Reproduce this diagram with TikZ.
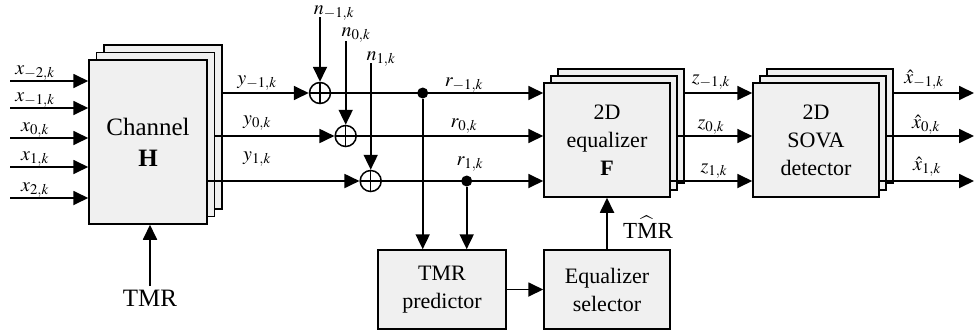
\documentclass[tikz,border=0pt]{standalone}
\usepackage{mathptmx}
\usepackage{fontspec}
\setmainfont{Liberation Serif}
\newfontfamily\timesfont{Liberation Serif}
\usetikzlibrary{arrows.meta, calc, shadows}
\definecolor{box-fill}{gray}{0.94}
\tikzset{
    tip/.style = {-{Triangle[length=15pt,width=14pt]}},
    wire/.style = {line width=1.8pt},
    block/.style = {draw, line width=1.5pt, fill=box-fill, align=center,
        font=\timesfont\fontsize{22}{28}\selectfont, inner sep=0pt},
    stack/.style = {block,
        copy shadow={shadow xshift=2*#1, shadow yshift=2*#1, draw=black, fill=box-fill, line width=1.5pt},
        copy shadow={shadow xshift=#1, shadow yshift=#1, draw=black, fill=box-fill, line width=1.5pt}},
    adder/.style = {circle, draw, line width=1.5pt, minimum size=21pt, inner sep=0pt, fill=white,
        path picture={\draw[line width=1.5pt]
            (path picture bounding box.north) -- (path picture bounding box.south)
            (path picture bounding box.west) -- (path picture bounding box.east);}},
    dot/.style = {circle, fill, minimum size=11pt, inner sep=0pt},
    sig/.style = {anchor=base, inner sep=0pt, font=\timesfont\fontsize{20}{24}\selectfont},
}

\begin{document}
\begin{tikzpicture}[x=1pt,y=-1pt]
\useasboundingbox (0,0) rectangle (976,335);

% blocks
\node[stack=7.5pt, minimum width=118pt, minimum height=164pt,
      font=\timesfont\fontsize{25}{31}\selectfont] (chan) at (148,142) {Channel\\\textbf{H}};
\node[stack=7pt, minimum width=126pt, minimum height=114pt] (eq) at (607,140) {2D\\equalizer\\\textbf{F}};
\node[stack=7pt, minimum width=126pt, minimum height=114pt] (sova) at (816,140) {2D\\SOVA\\detector};
\node[block, minimum width=128pt, minimum height=79pt] (pred) at (442,289.5) {TMR\\predictor};
\node[block, minimum width=126pt, minimum height=79pt] (sel) at (607,289.5) {Equalizer\\selector};

\coordinate (chan2) at ($(chan.east)+(7.5,0)$);
\coordinate (chan3) at ($(chan.east)+(15,0)$);
\coordinate (eq2) at ($(eq.east)+(7,0)$);
\coordinate (eq3) at ($(eq.east)+(14,0)$);
\coordinate (sova2) at ($(sova.east)+(7,0)$);
\coordinate (sova3) at ($(sova.east)+(14,0)$);

% inputs
\foreach \i/\yy/\lab in {1/81/{-2}, 2/108/{-1}, 3/138/0, 4/167/1, 5/198/2} {
    \coordinate (x\i) at (10,\yy);
    \draw[wire,tip] (x\i) -- (x\i -| chan.west);
    \node[sig] (xl\i) at (35,\yy-7) {$x_{\lab,k}$};
}
\coordinate (tmr) at (150,286);
\draw[wire,tip] (tmr) -- (tmr |- chan.south);
\node[sig, font=\timesfont\fontsize{25}{30}\selectfont] (tmrl) at (150,306) {TMR};

% noise
\node[adder] (a1) at (320,93) {};
\node[adder] (a2) at (345.7,136) {};
\node[adder] (a3) at (370.7,181) {};
\coordinate (n1) at (320,17);
\coordinate (n2) at (345.7,41);
\coordinate (n3) at (370.7,63);
\draw[wire,tip] (n1) -- (a1);
\draw[wire,tip] (n2) -- (a2);
\draw[wire,tip] (n3) -- (a3);
\node[sig] (nl1) at (334,14) {$n_{-1,k}$};
\node[sig] (nl2) at (356,36) {$n_{0,k}$};
\node[sig] (nl3) at (381,60) {$n_{1,k}$};

\draw[wire,tip] (a1 -| chan3) -- (a1);
\draw[wire,tip] (a2 -| chan2) -- (a2);
\draw[wire,tip] (a3 -| chan.east) -- (a3);
\node[sig] (yl1) at (257,84) {$y_{-1,k}$};
\node[sig] (yl2) at (257,124) {$y_{0,k}$};
\node[sig] (yl3) at (257,160) {$y_{1,k}$};

% received
\draw[wire,tip] (a1) -- (a1 -| eq.west);
\draw[wire,tip] (a2) -- (a2 -| eq.west);
\draw[wire,tip] (a3) -- (a3 -| eq.west);
\node[sig] (rl1) at (464,86) {$r_{-1,k}$};
\node[sig] (rl2) at (464,127) {$r_{0,k}$};
\node[sig] (rl3) at (470,165) {$r_{1,k}$};
\node[dot] (d1) at (422.7,93) {};
\node[dot] (d2) at (466.7,181) {};
\draw[wire,tip] (d1) -- (d1 |- pred.north);
\draw[wire,tip] (d2) -- (d2 |- pred.north);

\draw[wire,tip] (pred) -- (sel);
\draw[wire,tip] (sel) -- (eq);
\node[sig, font=\timesfont\fontsize{23}{28}\selectfont] (tmrhat) at (648,238) {T$\widehat{\mbox{M}}$R};

% equalized
\draw[wire,tip] (a1 -| eq3) -- (a1 -| sova.west);
\draw[wire,tip] (a2 -| eq2) -- (a2 -| sova.west);
\draw[wire,tip] (a3 -| eq.east) -- (a3 -| sova.west);
\node[sig] (zl1) at (711,83) {$z_{-1,k}$};
\node[sig] (zl2) at (711,128) {$z_{0,k}$};
\node[sig] (zl3) at (714,172) {$z_{1,k}$};

% decisions
\coordinate (out1) at (974,93);
\coordinate (out2) at (974,136);
\coordinate (out3) at (974,181);
\draw[wire,tip] (out1 -| sova3) -- (out1);
\draw[wire,tip] (out2 -| sova2) -- (out2);
\draw[wire,tip] (out3 -| sova.east) -- (out3);
\node[sig] (xh1) at (924,83) {$\hat{x}_{-1,k}$};
\node[sig] (xh2) at (926,128) {$\hat{x}_{0,k}$};
\node[sig] (xh3) at (927,170) {$\hat{x}_{1,k}$};

\end{tikzpicture}
\end{document}
